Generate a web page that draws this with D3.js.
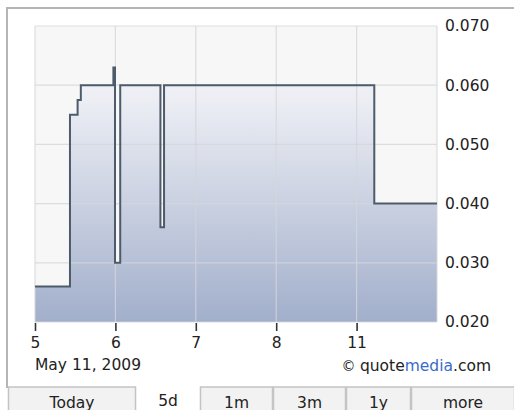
<!DOCTYPE html>
<html>
<head>
<meta charset="utf-8">
<script src="https://cdn.jsdelivr.net/npm/d3@7"></script>
<style>
  body { margin: 0; background: #fff; }
  text { font-family: "DejaVu Sans", Verdana, sans-serif; fill: #222; }
</style>
</head>
<body>
<div id="chart"></div>
<script>
// trading days shown on the x axis (index 0..4), last close at 5
var dayLabels = ["5", "6", "7", "8", "11"];
var dateLabel = "May 11, 2009";

// step series: position in days from start, price
var times  = [0, 0.435, 0.53, 0.57, 0.975, 0.995, 1.06, 1.56, 1.605, 4.22, 5];
var prices = [0.026, 0.055, 0.0575, 0.060, 0.063, 0.030, 0.060, 0.036, 0.060, 0.040, 0.040];

var priceTicks = [0.02, 0.03, 0.04, 0.05, 0.06, 0.07];
var tabNames = ["Today", "5d", "1m", "3m", "1y", "more"];

var svgWidth = 514;
var svgHeight = 410;

var plot = { left: 35, top: 26, right: 437, bottom: 322 };

var svg = d3.select("#chart")
  .append("svg")
  .attr("width", svgWidth)
  .attr("height", svgHeight);

var data = times.map(function(t, i) { return { t: t, p: prices[i] }; });

var x = d3.scaleLinear().domain([0, 5]).range([plot.left, plot.right]);
var y = d3.scaleLinear().domain([0.02, 0.07]).range([plot.bottom, plot.top]);

// outer frame
svg.append("path")
  .attr("d", "M7,388 L7,8 L514,8")
  .attr("fill", "none")
  .attr("stroke", "#b5b5b5")
  .attr("stroke-width", 2);

// gradient for area
var grad = svg.append("defs").append("linearGradient")
  .attr("id", "fillGrad")
  .attr("gradientUnits", "userSpaceOnUse")
  .attr("x1", 0).attr("x2", 0)
  .attr("y1", plot.top).attr("y2", plot.bottom);
grad.append("stop").attr("offset", "0%").attr("stop-color", "#f6f7f9");
grad.append("stop").attr("offset", "25%").attr("stop-color", "#eceef4");
grad.append("stop").attr("offset", "100%").attr("stop-color", "#a2afcb");

// plot background
svg.append("rect")
  .attr("x", plot.left)
  .attr("y", plot.top)
  .attr("width", plot.right - plot.left)
  .attr("height", plot.bottom - plot.top)
  .attr("fill", "#f7f7f7");

// area under price
var area = d3.area()
  .curve(d3.curveStepAfter)
  .x(d => x(d.t))
  .y0(y(0.02))
  .y1(d => y(d.p));

svg.append("path")
  .datum(data)
  .attr("d", area)
  .attr("fill", "url(#fillGrad)");

// grid lines
svg.append("g")
  .selectAll("line.h")
  .data(priceTicks)
  .enter()
  .append("line")
  .attr("x1", plot.left)
  .attr("x2", plot.right)
  .attr("y1", d => y(d))
  .attr("y2", d => y(d))
  .attr("stroke", "#d4d6da")
  .attr("stroke-opacity", 0.8)
  .attr("stroke-width", 1.2);

svg.append("g")
  .selectAll("line.v")
  .data(d3.range(dayLabels.length + 1))
  .enter()
  .append("line")
  .attr("x1", d => x(d))
  .attr("x2", d => x(d))
  .attr("y1", plot.top)
  .attr("y2", plot.bottom)
  .attr("stroke", "#d4d6da")
  .attr("stroke-opacity", 0.8)
  .attr("stroke-width", 1.2);

// price line
var line = d3.line()
  .curve(d3.curveStepAfter)
  .x(d => x(d.t))
  .y(d => y(d.p));

svg.append("path")
  .datum(data)
  .attr("d", line)
  .attr("fill", "none")
  .attr("stroke", "#4e5b6b")
  .attr("stroke-width", 2);

// right axis labels
var yAxis = d3.axisRight(y)
  .tickValues(priceTicks)
  .tickFormat(d3.format(".3f"))
  .tickSize(0)
  .tickPadding(8);

var yG = svg.append("g")
  .attr("transform", `translate(${plot.right}, 0)`)
  .call(yAxis);
yG.select(".domain").remove();
yG.selectAll("text")
  .style("font-family", "DejaVu Sans, sans-serif")
  .style("font-size", "15.5px")
  .attr("fill", "#222");

// bottom axis
var xAxis = d3.axisBottom(x)
  .tickValues(d3.range(dayLabels.length))
  .tickFormat(d => dayLabels[d])
  .tickSize(8)
  .tickPadding(6);

var xG = svg.append("g")
  .attr("transform", `translate(0, ${plot.bottom + 1})`)
  .call(xAxis);
xG.select(".domain").remove();
xG.selectAll("line").attr("stroke", "#333").attr("stroke-width", 1.6);
xG.selectAll("text")
  .style("font-family", "DejaVu Sans, sans-serif")
  .style("font-size", "15.5px")
  .attr("fill", "#222");

svg.append("text")
  .attr("x", 35)
  .attr("y", 370)
  .style("font-size", "15.5px")
  .text(dateLabel);

// quotemedia credit
var credit = svg.append("text")
  .attr("x", 491)
  .attr("y", 371)
  .attr("text-anchor", "end")
  .style("font-size", "15.5px");
credit.append("tspan").style("font-size", "14px").text("\u00a9 ");
credit.append("tspan").text("quote");
credit.append("tspan").style("fill", "#3a6cc8").text("media");
credit.append("tspan").text(".com");

// tabs
var tabEdges = [8, 136, 200, 273, 346, 411, 515];
var tabs = svg.append("g")
  .selectAll("g")
  .data(tabNames)
  .enter()
  .append("g");

tabs.filter((d, i) => i !== 1)
  .append("rect")
  .attr("x", (d, i, n) => 0)
  .attr("y", 387)
  .attr("width", 0)
  .attr("height", 30);

tabs.each(function(d, i) {
  var g = d3.select(this);
  var x0 = tabEdges[i], x1 = tabEdges[i + 1];
  if (i !== 1) {
    g.select("rect")
      .attr("x", x0 + 0.5)
      .attr("width", x1 - x0 - 1)
      .attr("fill", "#f2f2f2")
      .attr("stroke", "#c4c4c4")
      .attr("stroke-width", 1.5);
  }
  g.append("text")
    .attr("x", (x0 + x1) / 2)
    .attr("y", i === 1 ? 406 : 408)
    .attr("text-anchor", "middle")
    .style("font-size", "15.5px")
    .text(d);
});
</script>
</body>
</html>
